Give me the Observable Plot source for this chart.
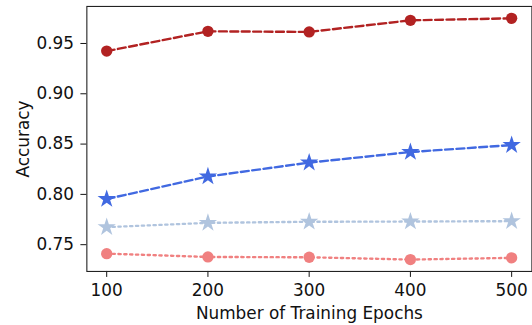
<!DOCTYPE html>
<html>
<head>
<meta charset="utf-8">
<script src="https://cdn.jsdelivr.net/npm/d3@7"></script>
<script src="https://cdn.jsdelivr.net/npm/@observablehq/plot@0.6"></script>
<style>
  html, body { margin: 0; padding: 0; background: #fff; overflow: hidden; }
  #chart { width: 532px; height: 325px; overflow: hidden; }
</style>
</head>
<body>
<div id="chart"></div>
<script>
const epochs = [100, 200, 300, 400, 500];
const seriesNames = ["darkRed", "blueStar", "lightStar", "lightRed"];
const darkRedValues = [0.9424, 0.9621, 0.9615, 0.9730, 0.9750];
const blueStarValues = [0.7954, 0.8178, 0.8316, 0.8421, 0.8490];
const lightStarValues = [0.7674, 0.7717, 0.7728, 0.7730, 0.7734];
const lightRedValues = [0.7411, 0.7378, 0.7375, 0.7352, 0.7369];
const yTicks = [0.75, 0.80, 0.85, 0.90, 0.95];
const xTicks = [100, 200, 300, 400, 500];

const styles = {
  darkRed:   {color: "#b22222", dash: "8,3.5", symbol: "circle", r: 5.7},
  blueStar:  {color: "#4169e1", dash: "8,3.5", symbol: "star",   r: 5.8},
  lightStar: {color: "#b0c4de", dash: "2.3,3.6", symbol: "star", r: 5.8},
  lightRed:  {color: "#f08080", dash: "2.3,3.6", symbol: "circle", r: 5.7}
};
const valuesBySeries = {
  darkRed: darkRedValues, blueStar: blueStarValues,
  lightStar: lightStarValues, lightRed: lightRedValues
};
const rows = seriesNames.flatMap(s => epochs.map((e, i) => ({series: s, epoch: e, acc: valuesBySeries[s][i]})));

const marks = [];
for (const s of seriesNames) {
  const st = styles[s];
  const data = rows.filter(d => d.series === s);
  marks.push(Plot.line(data, {x: "epoch", y: "acc", stroke: st.color, strokeWidth: 2.4, strokeDasharray: st.dash}));
}
for (const s of seriesNames) {
  const st = styles[s];
  const data = rows.filter(d => d.series === s);
  marks.push(Plot.dot(data, {x: "epoch", y: "acc", fill: st.color, stroke: "none", symbol: st.symbol, r: st.r}));
}

const chart = Plot.plot({
  width: 536,
  height: 325,
  marginLeft: 87,
  marginRight: 0.6,
  marginTop: 6,
  marginBottom: 52,
  style: {fontFamily: "DejaVu Sans", fontSize: "17px", color: "#111", background: "#fff"},
  x: {domain: [80.4, 520], ticks: xTicks},
  y: {domain: [0.7234, 0.9868], ticks: yTicks},
  marks: [
    Plot.axisX({ticks: xTicks, tickSize: 6, tickPadding: 7, tickFormat: d => String(d), fontSize: 17,
      label: "Number of Training Epochs", labelAnchor: "center", labelArrow: "none", labelOffset: 48}),
    Plot.axisY({ticks: yTicks, tickSize: 6, tickPadding: 7, tickFormat: d3.format(".2f"), fontSize: 17,
      label: "Accuracy", labelAnchor: "center", labelArrow: "none", labelOffset: 70}),
    ...marks,
    Plot.frame({stroke: "#222", strokeWidth: 1.1})
  ]
});
document.getElementById("chart").appendChild(chart);
</script>
</body>
</html>
